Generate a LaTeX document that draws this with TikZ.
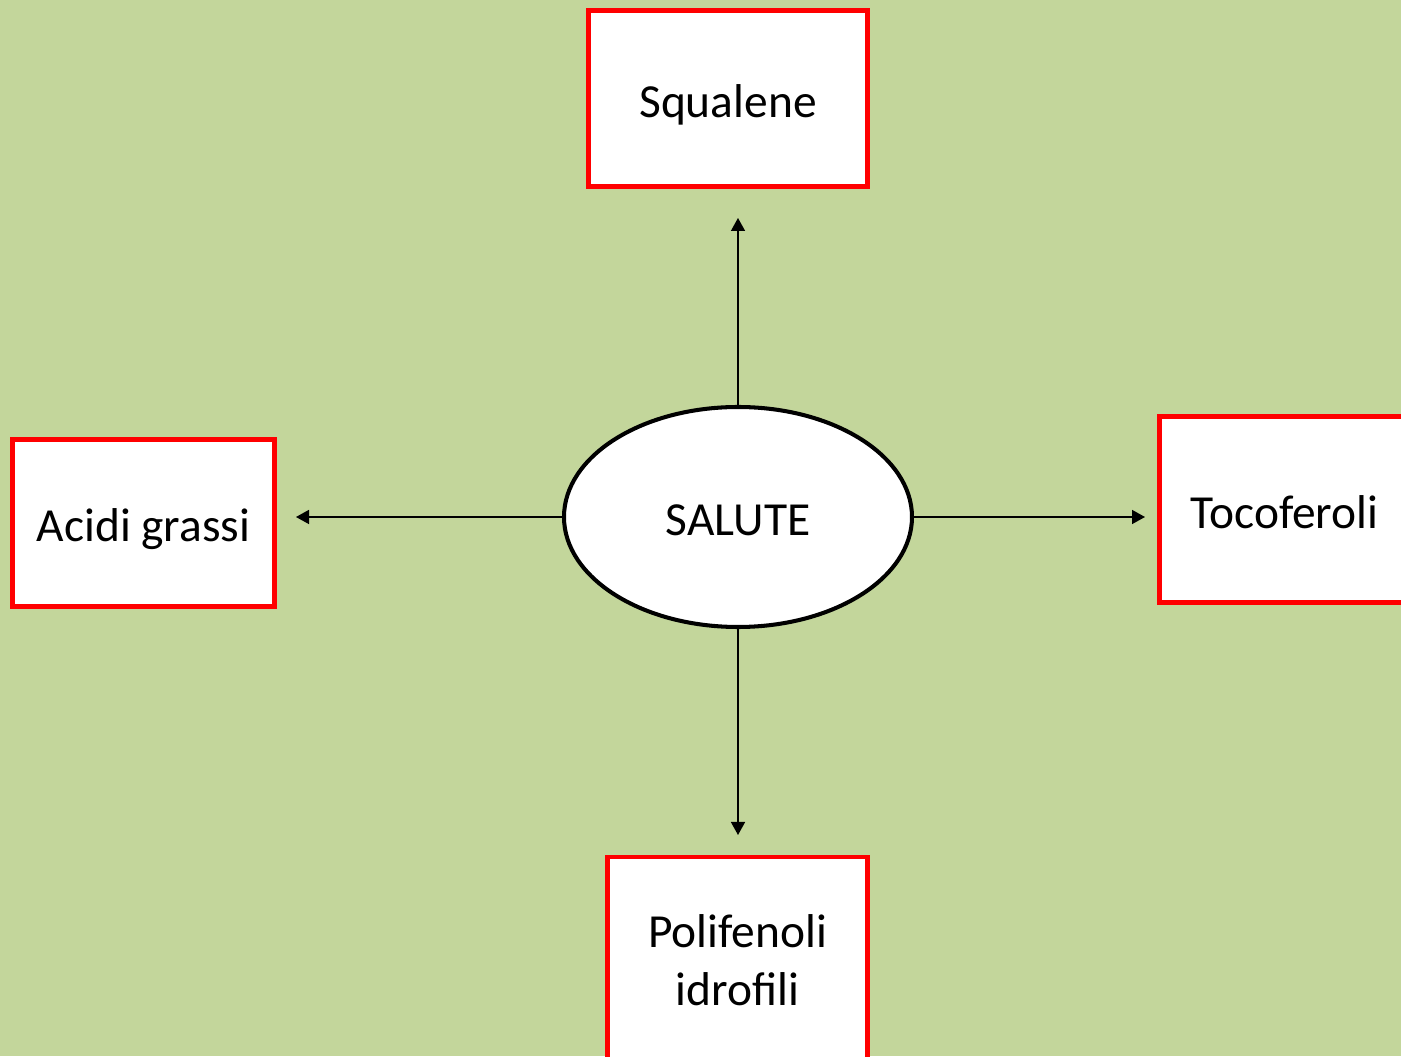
\documentclass[tikz,border=0pt]{standalone}
\usepackage{fontspec}
\setmainfont{Carlito}
\usetikzlibrary{positioning,arrows.meta,shapes.geometric}
\definecolor{olgreen}{HTML}{C3D69B}
\definecolor{boxred}{HTML}{FF0000}

\begin{document}
\begin{tikzpicture}[
  font=\fontsize{27}{33}\selectfont,
  comp/.style={draw=boxred, line width=2.8pt, fill=white, align=center, inner sep=0pt},
  oneline/.style={text height=27.6pt, text depth=6pt},
  core/.style={ellipse, draw=black, line width=2.3pt, fill=white, inner sep=0pt,
               minimum width=6.96cm, minimum height=4.4cm, oneline},
  link/.style={line width=0.85pt, -{Triangle[length=2.6mm, width=2.8mm]}},
]
% background page
\fill[olgreen] (0,0) rectangle (28.02,21.12);
\useasboundingbox (0,0) rectangle (28.02,21.12);

% ================= centre =================
\node[core] (salute) at (14.76,10.78) {SALUTE};

% ================= components =================
\node[comp, oneline, minimum width=5.58cm, minimum height=3.52cm] (squalene) at (14.56,19.15) {Squalene};
\node[comp, oneline, minimum width=5.24cm, minimum height=3.34cm] (acidi) at (2.87,10.66) {Acidi grassi};
\node[comp, oneline, minimum width=5.00cm, minimum height=3.72cm] (tocoferoli) at (25.69,10.93) {Tocoferoli};
\node[comp, minimum width=5.20cm, minimum height=4.12cm] (polifenoli) at (14.75,1.92)
     {Polifenoli\\idrofili};

% arrow ends (gap before each box)
\coordinate (tipN) at (14.76,16.76);
\coordinate (tipW) at (5.92,10.78);
\coordinate (tipE) at (22.90,10.78);
\coordinate (tipS) at (14.76,4.42);

\draw[link] (salute.north) -- (tipN);
\draw[link] (salute.west) -- (tipW);
\draw[link] (salute.east) -- (tipE);
\draw[link] (salute.south) -- (tipS);
\end{tikzpicture}
\end{document}
